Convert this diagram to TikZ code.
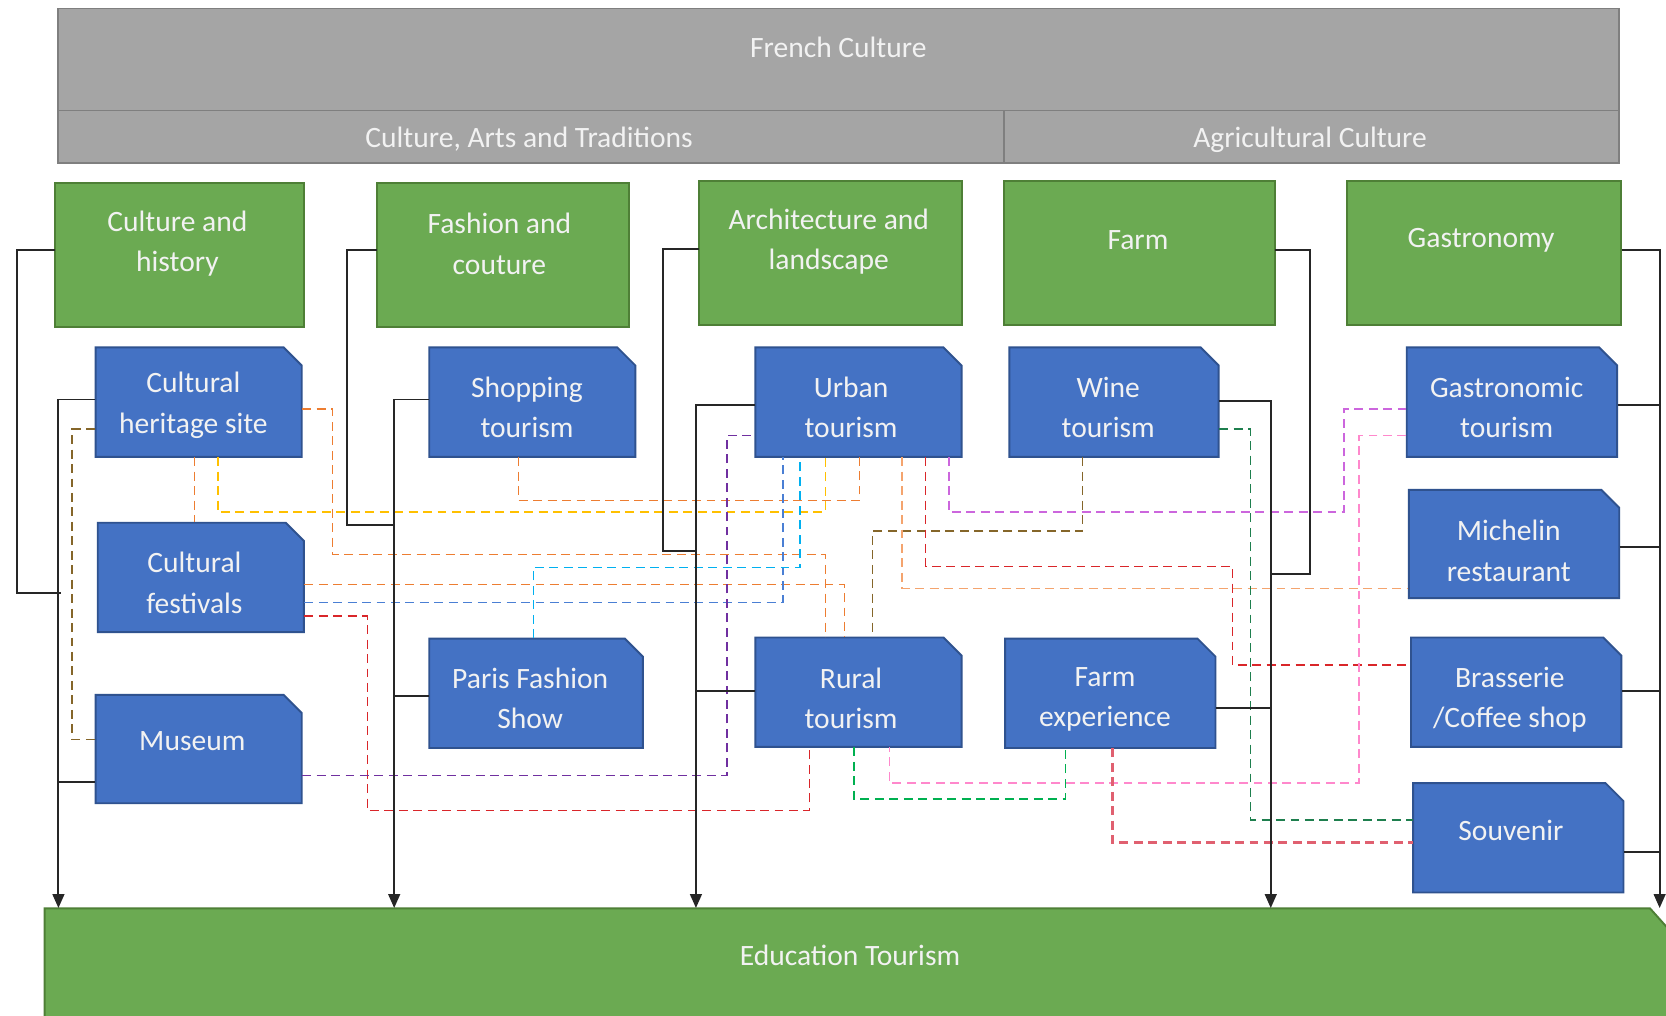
\documentclass[tikz,border=0pt]{standalone}
\usepackage{fontspec}
\setmainfont{Carlito}
\usetikzlibrary{arrows.meta,fit}
\definecolor{grayF}{HTML}{A5A5A5}
\definecolor{grayD}{HTML}{7F7F7F}
\definecolor{greenF}{HTML}{6BAA52}
\definecolor{greenD}{HTML}{4E7F36}
\definecolor{blueF}{HTML}{4472C4}
\definecolor{blueD}{HTML}{2F528F}
\definecolor{cOrange}{HTML}{ED7D31}
\definecolor{cYellow}{HTML}{FFC000}
\definecolor{cBlue}{HTML}{4A7FD4}
\definecolor{cCyan}{HTML}{00B0F0}
\definecolor{cRed}{HTML}{D9262A}
\definecolor{cPurple}{HTML}{7030A0}
\definecolor{cBrown}{HTML}{85662A}
\definecolor{cSalmon}{HTML}{F4A46E}
\definecolor{cMagenta}{HTML}{CC66DD}
\definecolor{cDkGreen}{HTML}{1E7F4E}
\definecolor{cPink}{HTML}{FF88CC}
\definecolor{cGreen}{HTML}{00B050}
\definecolor{cLtRed}{HTML}{E06070}
\tikzset{
  txt/.style={text=white!95!black,align=center,inner sep=0pt,yshift=-1.2pt,font=\fontsize{13.9}{19}\selectfont},
  sl/.style={draw=black!85,line width=0.9pt},
  sla/.style={sl,-{Triangle[length=6.5pt,width=5.5pt]}},
  dl/.style={line width=0.75pt,dash pattern=on 4.2pt off 2.6pt},
}
% name, x1, y1, x2, y2, tx, ty, text
\newcommand\bluebox[8]{%
  \fill[blueF,draw=blueD,line width=0.9pt] (#2,#3) -- ({#4-17},#3) -- (#4,{#3+17}) -- (#4,#5) -- (#2,#5) -- cycle;
  \node[fit={(#2,#3) (#4,#5)},inner sep=0pt] (#1) {};
  \node[txt] (#1-t) at (#6,#7) {#8};
}
\newcommand\greenbox[8]{%
  \fill[greenF,draw=greenD,line width=0.9pt] (#2,#3) rectangle (#4,#5);
  \node[fit={(#2,#3) (#4,#5)},inner sep=0pt] (#1) {};
  \node[txt] (#1-t) at (#6,#7) {#8};
}
\newcommand\graybox[8]{%
  \fill[grayF,draw=grayD,line width=0.9pt] (#2,#3) rectangle (#4,#5);
  \node[fit={(#2,#3) (#4,#5)},inner sep=0pt] (#1) {};
  \node[txt] (#1-t) at (#6,#7) {#8};
}
\begin{document}
\begin{tikzpicture}[x=0.5pt,y=-0.5pt]
\useasboundingbox (0,0) rectangle (1568,956);
\fill[white] (0,0) rectangle (1568,956);
\clip (0,0) rectangle (1568,956);

% gray header
\graybox{fcult}{55}{8}{1524}{104}{789}{42}{French Culture}
\graybox{cat}{55}{104}{945}{153}{498}{129}{Culture, Arts and Traditions}
\graybox{agr}{945}{104}{1524}{153}{1233}{129}{Agricultural Culture}

% green category boxes
\greenbox{ch}{52}{172}{286}{308}{167}{227}{Culture and\\history}
\greenbox{fac}{355}{172}{592}{308}{470}{227}{Fashion and\\couture}
\greenbox{al}{658}{170}{905}{306}{780}{225}{Architecture and\\landscape}
\greenbox{farm}{945}{170}{1200}{306}{1071}{224}{Farm}
\greenbox{gas}{1268}{170}{1526}{306}{1394}{224}{Gastronomy}

% education tourism
\fill[greenF,draw=greenD,line width=0.9pt] (42,960) -- (42,855) -- (1553,855) -- (1570,874) -- (1570,960) -- cycle;
\node[fit={(42,855) (1568,956)},inner sep=0pt] (edu) {};
\node[txt] (edu-t) at (800,897) {Education Tourism};

% blue boxes
\bluebox{chs}{90}{327}{284}{430}{182}{379}{Cultural\\heritage site}
\bluebox{cfest}{92}{492}{286}{595}{183}{546}{Cultural\\festivals}
\bluebox{mus}{90}{654}{284}{756}{181}{695}{Museum}
\bluebox{shop}{404}{327}{598}{430}{496}{381}{Shopping\\tourism}
\bluebox{pfs}{404}{601}{605}{704}{499}{655}{Paris Fashion\\Show}
\bluebox{urban}{711}{327}{905}{430}{801}{381}{Urban\\tourism}
\bluebox{rural}{711}{600}{905}{703}{801}{655}{Rural\\tourism}
\bluebox{wine}{950}{327}{1147}{430}{1043}{381}{Wine\\tourism}
\bluebox{fexp}{946}{601}{1144}{704}{1040}{656}{Farm\\experience}
\bluebox{gtour}{1324}{327}{1522}{430}{1418}{381}{Gastronomic\\tourism}
\bluebox{mich}{1326}{461}{1524}{563}{1420}{516}{Michelin\\restaurant}
\bluebox{bras}{1328}{600}{1526}{703}{1421}{656}{Brasserie\\/Coffee shop}
\bluebox{souv}{1330}{737}{1528}{840}{1422}{779}{Souvenir}

% dashed relation lines
\draw[dl,cOrange] (chs.east|-0,385) -- (313,385) -- (313,522) -- (777,522) -- (rural.north-|777,0);
\draw[dl,cOrange] (chs.south-|183,0) -- (cfest.north-|183,0);
\draw[dl,cYellow] (chs.south-|205,0) -- (205,482) -- (777,482) -- (urban.south-|777,0);
\draw[dl,cOrange] (shop.south-|488,0) -- (488,471) -- (809,471) -- (urban.south-|809,0);
\draw[dl,cOrange] (cfest.east|-0,550) -- (795,550) -- (rural.north-|795,0);
\draw[dl,cBlue] (cfest.east|-0,567) -- (737,567) -- (urban.south-|737,0);
\draw[dl,cCyan] (pfs.north-|502,0) -- (502,534) -- (753,534) -- (urban.south-|753,0);
\draw[dl,cRed] (cfest.east|-0,580) -- (346,580) -- (346,763) -- (762,763) -- (rural.south-|762,0);
\draw[dl,cPurple] (mus.east|-0,730) -- (684,730) -- (684,410) -- (urban.west|-0,410);
\draw[dl,cBrown] (chs.west|-0,404) -- (68,404) -- (68,696) -- (mus.west|-0,696);
\draw[dl,cBrown] (wine.south-|1019,0) -- (1019,500) -- (821,500) -- (rural.north-|821,0);
\draw[dl,cSalmon] (urban.south-|849,0) -- (849,554) -- (mich.west|-0,554);
\draw[dl,cRed] (urban.south-|871,0) -- (871,533) -- (1160,533) -- (1160,626) -- (bras.west|-0,626);
\draw[dl,cMagenta] (urban.south-|893,0) -- (893,482) -- (1265,482) -- (1265,385) -- (gtour.west|-0,385);
\draw[dl,cDkGreen] (wine.east|-0,404) -- (1177,404) -- (1177,772) -- (souv.west|-0,772);
\draw[dl,cPink] (gtour.west|-0,410) -- (1279,410) -- (1279,737) -- (837,737) -- (rural.south-|837,0);
\draw[dl,cGreen] (rural.south-|804,0) -- (804,752) -- (1003,752) -- (fexp.south-|1003,0);
\draw[dl,cLtRed,line width=1.1pt] (fexp.south-|1047,0) -- (1047,793) -- (souv.west|-0,793);

% solid hierarchy lines
\draw[sl] (ch.west|-0,235) -- (16,235) -- (16,558) -- (57,558);
\draw[sla] (chs.west|-0,376) -- (55,376) -- (edu.north-|55,0);
\draw[sl] (mus.west|-0,736) -- (55,736);
\draw[sl] (fac.west|-0,235) -- (327,235) -- (327,494) -- (371,494);
\draw[sla] (shop.west|-0,376) -- (371,376) -- (edu.north-|371,0);
\draw[sl] (pfs.west|-0,655) -- (371,655);
\draw[sl] (al.west|-0,234) -- (624,234) -- (624,519) -- (655,519);
\draw[sla] (urban.west|-0,381) -- (655,381) -- (edu.north-|655,0);
\draw[sl] (rural.west|-0,650) -- (655,650);
\draw[sl] (farm.east|-0,235) -- (1233,235) -- (1233,540) -- (1196,540);
\draw[sla] (wine.east|-0,377) -- (1196,377) -- (edu.north-|1196,0);
\draw[sl] (fexp.east|-0,666) -- (1196,666);
\draw[sla] (gas.east|-0,235) -- (1562,235) -- (edu.north-|1562,0);
\draw[sl] (gtour.east|-0,381) -- (1562,381);
\draw[sl] (mich.east|-0,515) -- (1562,515);
\draw[sl] (bras.east|-0,650) -- (1562,650);
\draw[sl] (souv.east|-0,802) -- (1562,802);
\end{tikzpicture}
\end{document}
